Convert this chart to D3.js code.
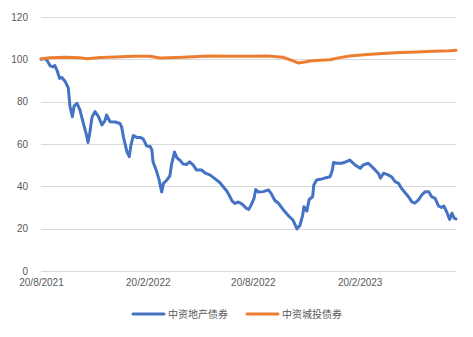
<!DOCTYPE html>
<html>
<head>
<meta charset="utf-8">
<script src="https://cdn.jsdelivr.net/npm/d3@7"></script>
<style>
  body { margin: 0; background: #fff; }
  .axis text { font-family: "Liberation Sans", Arial, sans-serif; font-size: 10px; fill: #595959; }
  .legend text { font-family: "Noto Sans CJK SC", sans-serif; font-size: 10px; fill: #595959; }
</style>
</head>
<body>
<div class="main"></div>
<script>
var seriesNames = ["中资地产债券", "中资城投债券"];
var seriesColors = ["#4472C4", "#ED7D31"];

var yTicks = [0, 20, 40, 60, 80, 100, 120];
var xTickDates = ["2021-08-20", "2022-02-20", "2022-08-20", "2023-02-20"];
var xDomain = ["2021-08-20", "2023-08-05"];

// 中资地产债券
var propertyDates = ["2021-08-20","2021-08-26","2021-08-30","2021-09-05","2021-09-10","2021-09-13","2021-09-17","2021-09-21","2021-09-25","2021-10-01",
  "2021-10-06","2021-10-09","2021-10-13","2021-10-16","2021-10-21","2021-10-26","2021-11-01","2021-11-06","2021-11-09","2021-11-12",
  "2021-11-16","2021-11-21","2021-11-27","2021-12-03","2021-12-08","2021-12-11","2021-12-17","2021-12-26","2022-01-03","2022-01-06",
  "2022-01-09","2022-01-15","2022-01-19","2022-01-22","2022-01-26","2022-02-01","2022-02-07","2022-02-12","2022-02-18","2022-02-24",
  "2022-02-27","2022-03-01","2022-03-07","2022-03-11","2022-03-16","2022-03-19","2022-03-25","2022-03-30","2022-04-02","2022-04-07",
  "2022-04-11","2022-04-16","2022-04-22","2022-04-28","2022-05-03","2022-05-09","2022-05-15","2022-05-24","2022-05-30","2022-06-07",
  "2022-06-16","2022-06-24","2022-06-30","2022-07-06","2022-07-11","2022-07-15","2022-07-20","2022-07-26","2022-08-01","2022-08-09",
  "2022-08-13","2022-08-18","2022-08-22","2022-08-25","2022-08-30","2022-09-07","2022-09-16","2022-09-21","2022-09-27","2022-10-03",
  "2022-10-11","2022-10-20","2022-10-28","2022-11-04","2022-11-09","2022-11-14","2022-11-16","2022-11-21","2022-11-25","2022-12-01",
  "2022-12-03","2022-12-08","2022-12-14","2022-12-22","2022-12-31","2023-01-04","2023-01-06","2023-01-11","2023-01-20","2023-01-26",
  "2023-02-03","2023-02-12","2023-02-21","2023-02-26","2023-03-07","2023-03-16","2023-03-24","2023-03-28","2023-04-02","2023-04-10",
  "2023-04-16","2023-04-22","2023-04-28","2023-05-03","2023-05-09","2023-05-15","2023-05-21","2023-05-26","2023-06-01","2023-06-07",
  "2023-06-13","2023-06-19","2023-06-24","2023-06-30","2023-07-06","2023-07-11","2023-07-15","2023-07-20","2023-07-25","2023-07-29",
  "2023-08-02","2023-08-05"];
var propertyValues = [100.0,100.4,99.7,96.9,96.4,97.1,94.5,91.0,91.4,89.4,
  86.5,77.6,72.9,78.0,79.2,76.1,69.8,64.7,60.7,65.2,
  72.8,75.3,72.9,69.0,70.9,73.7,70.5,70.4,69.7,68.0,
  63.4,56.4,54.0,59.5,64.0,63.1,63.1,62.4,59.1,58.8,
  57.2,51.6,47.2,43.5,37.3,41.4,43.0,44.9,50.5,56.2,
  53.6,52.4,50.5,50.3,51.6,50.1,47.7,47.7,46.2,45.4,
  43.5,41.8,39.8,37.8,35.4,33.1,31.9,32.6,31.7,29.6,
  29.1,31.7,34.3,38.5,37.3,37.5,38.3,36.4,33.3,32.0,
  29.1,26.2,24.1,19.9,21.5,26.5,30.4,28.3,33.8,35.1,
  40.6,43.0,43.3,43.9,44.5,47.7,51.3,50.9,50.9,51.4,
  52.4,50.1,48.5,50.1,50.9,48.5,46.2,43.9,46.2,45.4,
  44.5,42.2,41.4,39.1,37.1,35.1,32.7,32.1,33.5,35.9,
  37.5,37.5,35.1,34.3,30.7,30.0,30.7,27.9,24.4,27.3,
  24.9,24.6];

// 中资城投债券
var lgfvDates = ["2021-08-20","2021-09-05","2021-10-02","2021-10-26","2021-11-07","2021-11-30","2021-12-26","2022-01-26","2022-02-24","2022-03-13",
  "2022-04-22","2022-06-04","2022-07-17","2022-08-24","2022-09-13","2022-10-11","2022-10-26","2022-11-06","2022-11-18","2022-11-26",
  "2022-12-14","2022-12-31","2023-01-17","2023-02-03","2023-03-05","2023-04-01","2023-05-01","2023-05-30","2023-06-26","2023-07-25",
  "2023-08-05"];
var lgfvValues = [100.3,100.8,101.0,100.8,100.3,100.9,101.1,101.5,101.5,100.6,
  101.0,101.6,101.5,101.4,101.6,101.0,99.5,98.3,98.7,99.2,
  99.6,99.8,100.8,101.6,102.3,102.8,103.2,103.5,103.8,104.1,
  104.3];

var parseDate = d3.timeParse("%Y-%m-%d");
var fmt = function(d) { return d.getDate() + "/" + (d.getMonth() + 1) + "/" + d.getFullYear(); };

var width = 473, height = 337;
var plotLeft = 41, plotRight = 456, plotTop = 17, plotBottom = 271;

var x = d3.scaleTime()
    .domain(xDomain.map(parseDate))
    .range([plotLeft, plotRight]);
var y = d3.scaleLinear()
    .domain([0, 120])
    .range([plotBottom, plotTop]);

var svg = d3.select(".main")
    .append("svg")
    .attr("width", width)
    .attr("height", height);

// gridlines
svg.append("g")
    .selectAll("line")
    .data(yTicks)
    .enter().append("line")
    .attr("x1", plotLeft)
    .attr("x2", plotRight)
    .attr("y1", function(d) { return Math.round(y(d)) + 0.5; })
    .attr("y2", function(d) { return Math.round(y(d)) + 0.5; })
    .attr("stroke", "#d9d9d9")
    .attr("stroke-width", 1);

var yAxis = svg.append("g")
    .attr("class", "axis")
    .attr("transform", "translate(" + (plotLeft - 13) + ",0)")
    .call(d3.axisLeft(y).tickValues(yTicks).tickSize(0).tickPadding(0));
yAxis.select(".domain").remove();

var xAxis = svg.append("g")
    .attr("class", "axis")
    .attr("transform", "translate(0," + (plotBottom + 8) + ")")
    .call(d3.axisBottom(x).tickValues(xTickDates.map(parseDate)).tickFormat(fmt).tickSize(0).tickPadding(0));
xAxis.select(".domain").remove();

var line = d3.line()
    .x(function(d) { return x(d.date); })
    .y(function(d) { return y(d.value); })
    .curve(d3.curveLinear);

function zipSeries(dates, values) {
    return dates.map(function(d, i) {
        return {date: parseDate(d), value: values[i]};
    });
}

var allSeries = [zipSeries(propertyDates, propertyValues), zipSeries(lgfvDates, lgfvValues)];

svg.append("g")
    .selectAll("path")
    .data(allSeries)
    .enter().append("path")
    .attr("d", line)
    .attr("fill", "none")
    .attr("stroke", function(d, i) { return seriesColors[i]; })
    .attr("stroke-width", 3)
    .attr("stroke-linejoin", "round")
    .attr("stroke-linecap", "round");

// legend
var legendX = [133, 247];
var legend = svg.append("g")
    .attr("class", "legend")
    .selectAll("g")
    .data(seriesNames)
    .enter().append("g")
    .attr("transform", function(d, i) { return "translate(" + legendX[i] + ",314)"; });

legend.append("line")
    .attr("x1", 0)
    .attr("x2", 31)
    .attr("stroke", function(d, i) { return seriesColors[i]; })
    .attr("stroke-width", 3)
    .attr("stroke-linecap", "round");

legend.append("text")
    .attr("x", 35)
    .attr("dy", "0.35em")
    .text(function(d) { return d; });
</script>
</body>
</html>
